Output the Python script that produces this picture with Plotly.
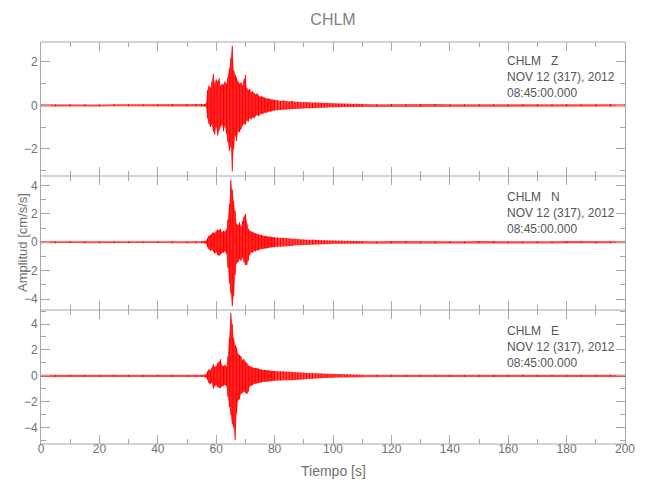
import plotly.graph_objects as go
from plotly.subplots import make_subplots

# ---------------- data ----------------
STATION = "CHLM"
COMPONENTS = ["Z", "N", "E"]
DATE_TEXT = "NOV 12 (317), 2012"
TIME_TEXT = "08:45:00.000"

# sample times [s] of the read-off envelope extremes
TIME = [0, 5, 10, 15, 20, 25, 30, 35, 40, 45, 50, 53, 55,
        56.0, 56.5, 57.0, 57.5, 58.0, 58.5, 59.0, 59.5, 60.0, 60.5,
        61.0, 61.5, 62.0, 62.5, 63.0, 63.5, 64.0, 64.5, 65.0, 65.5,
        66.0, 66.5, 67.0, 67.5, 68.0, 68.5, 69.0, 69.5, 70.0, 70.5,
        71.0, 71.5, 72.0, 72.5, 73.0, 73.5, 74.0, 74.5, 75.0, 75.5,
        76.0, 76.5, 77.0, 77.5, 78.0, 78.5, 79.0, 79.5, 80.0,
        81, 82, 83, 84, 85, 86, 87, 88, 89, 90,
        91, 92, 93, 94, 95, 96, 97, 98, 99, 100,
        101, 102, 103, 104, 105, 106, 107, 108, 109, 110,
        115, 120, 125, 130, 135, 140, 145, 150, 155, 160,
        165, 170, 175, 180, 185, 190, 195, 200]

# Z component: upper / lower extremes [cm/s/s]
Z_UP = [0.05, 0.04, 0.05, 0.05, 0.04, 0.05, 0.05, 0.04, 0.05, 0.05, 0.04, 0.05, 0.05,
        0.06, 0.08, 0.70, 0.90, 0.80, 1.10, 1.45, 1.00, 1.20, 1.10,
        1.25, 0.90, 1.00, 0.95, 1.10, 1.00, 1.30, 1.70, 2.20, 2.75,
        1.60, 1.40, 1.30, 1.10, 1.00, 1.05, 0.90, 1.20, 1.40, 0.80,
        0.70, 0.75, 0.60, 0.65, 0.55, 0.50, 0.55, 0.45, 0.40, 0.42,
        0.38, 0.35, 0.33, 0.30, 0.32, 0.28, 0.26, 0.27, 0.24,
        0.23, 0.20, 0.22, 0.19, 0.18, 0.20, 0.16, 0.17, 0.15, 0.14,
        0.15, 0.13, 0.12, 0.13, 0.12, 0.11, 0.10, 0.11, 0.10, 0.09,
        0.09, 0.08, 0.08, 0.07, 0.08, 0.07, 0.06, 0.07, 0.06, 0.06,
        0.05, 0.06, 0.05, 0.05, 0.06, 0.05, 0.05, 0.06, 0.05, 0.05,
        0.06, 0.05, 0.05, 0.06, 0.05, 0.05, 0.06, 0.05]
Z_LO = [-0.05, -0.05, -0.04, -0.05, -0.05, -0.04, -0.05, -0.05, -0.04, -0.05, -0.05, -0.04, -0.05,
        -0.05, -0.07, -0.60, -0.85, -1.00, -0.90, -1.20, -1.35, -1.00, -1.40,
        -1.15, -1.00, -0.90, -1.20, -0.95, -1.30, -1.70, -2.10, -1.90, -3.05,
        -2.00, -1.40, -1.65, -1.20, -1.25, -1.10, -0.95, -0.85, -0.90, -0.70,
        -0.75, -0.60, -0.65, -0.55, -0.60, -0.50, -0.45, -0.50, -0.42, -0.38,
        -0.40, -0.33, -0.35, -0.32, -0.28, -0.30, -0.27, -0.24, -0.25,
        -0.22, -0.22, -0.19, -0.20, -0.18, -0.17, -0.17, -0.15, -0.16, -0.14,
        -0.13, -0.14, -0.13, -0.12, -0.11, -0.12, -0.11, -0.10, -0.09, -0.10,
        -0.08, -0.09, -0.08, -0.08, -0.07, -0.07, -0.07, -0.06, -0.06, -0.06,
        -0.06, -0.05, -0.05, -0.06, -0.05, -0.05, -0.06, -0.05, -0.05, -0.06,
        -0.05, -0.05, -0.06, -0.05, -0.05, -0.06, -0.05, -0.05]

# N component
N_UP = [0.07, 0.06, 0.07, 0.07, 0.06, 0.07, 0.07, 0.06, 0.07, 0.07, 0.06, 0.07, 0.07,
        0.08, 0.10, 0.30, 0.45, 0.50, 0.60, 0.70, 0.65, 0.80, 0.90,
        0.85, 0.95, 0.70, 0.80, 0.75, 0.90, 1.60, 2.70, 4.40, 3.70,
        2.90, 2.20, 1.30, 1.20, 1.40, 1.10, 1.50, 1.80, 2.00, 1.30,
        0.95, 0.80, 0.75, 0.70, 0.65, 0.60, 0.58, 0.55, 0.50, 0.52,
        0.45, 0.42, 0.45, 0.40, 0.38, 0.40, 0.36, 0.35, 0.34,
        0.33, 0.30, 0.32, 0.29, 0.28, 0.25, 0.24, 0.22, 0.20, 0.21,
        0.18, 0.17, 0.18, 0.16, 0.15, 0.14, 0.15, 0.13, 0.12, 0.12,
        0.11, 0.10, 0.10, 0.09, 0.10, 0.09, 0.08, 0.09, 0.08, 0.08,
        0.07, 0.08, 0.07, 0.07, 0.08, 0.07, 0.07, 0.08, 0.07, 0.07,
        0.08, 0.07, 0.07, 0.08, 0.07, 0.07, 0.08, 0.07]
N_LO = [-0.07, -0.07, -0.06, -0.07, -0.07, -0.06, -0.07, -0.07, -0.06, -0.07, -0.07, -0.06, -0.07,
        -0.07, -0.10, -0.35, -0.50, -0.60, -0.55, -0.65, -0.80, -0.70, -0.90,
        -0.95, -0.85, -0.75, -0.70, -0.65, -0.80, -1.80, -2.90, -3.60, -4.50,
        -3.80, -2.30, -1.50, -1.40, -1.20, -1.30, -1.10, -1.40, -1.60, -1.60,
        -1.30, -0.90, -0.70, -0.75, -0.60, -0.65, -0.55, -0.58, -0.50, -0.45,
        -0.48, -0.45, -0.40, -0.42, -0.40, -0.36, -0.38, -0.34, -0.35,
        -0.32, -0.31, -0.29, -0.30, -0.27, -0.27, -0.22, -0.23, -0.21, -0.19,
        -0.19, -0.18, -0.16, -0.15, -0.16, -0.14, -0.13, -0.13, -0.13, -0.11,
        -0.11, -0.11, -0.10, -0.10, -0.09, -0.09, -0.09, -0.08, -0.08, -0.08,
        -0.08, -0.07, -0.07, -0.08, -0.07, -0.07, -0.08, -0.07, -0.07, -0.08,
        -0.07, -0.07, -0.08, -0.07, -0.07, -0.08, -0.07, -0.07]

# E component
E_UP = [0.08, 0.07, 0.08, 0.08, 0.07, 0.08, 0.08, 0.07, 0.08, 0.08, 0.07, 0.08, 0.08,
        0.09, 0.12, 0.35, 0.50, 0.45, 0.60, 0.90, 0.70, 0.75, 1.00,
        1.10, 1.28, 0.80, 0.75, 0.85, 0.70, 1.50, 2.95, 4.85, 4.00,
        2.90, 2.40, 2.20, 1.70, 1.60, 1.50, 1.20, 1.30, 1.10, 1.00,
        0.80, 0.75, 0.70, 0.65, 0.60, 0.62, 0.58, 0.55, 0.50, 0.48,
        0.45, 0.47, 0.44, 0.42, 0.43, 0.40, 0.38, 0.40, 0.37,
        0.36, 0.35, 0.37, 0.34, 0.35, 0.32, 0.30, 0.28, 0.27, 0.25,
        0.23, 0.22, 0.20, 0.19, 0.18, 0.17, 0.16, 0.15, 0.14, 0.13,
        0.13, 0.12, 0.11, 0.11, 0.10, 0.10, 0.09, 0.09, 0.09, 0.08,
        0.08, 0.09, 0.08, 0.08, 0.09, 0.08, 0.08, 0.09, 0.08, 0.08,
        0.09, 0.08, 0.08, 0.09, 0.08, 0.08, 0.09, 0.08]
E_LO = [-0.08, -0.08, -0.07, -0.08, -0.08, -0.07, -0.08, -0.08, -0.07, -0.08, -0.08, -0.07, -0.08,
        -0.08, -0.12, -0.30, -0.55, -0.65, -0.50, -1.00, -0.80, -0.70, -0.85,
        -0.90, -0.95, -0.80, -0.75, -0.70, -0.80, -1.60, -2.40, -3.00, -3.70,
        -4.00, -4.95, -2.90, -1.90, -1.80, -1.40, -1.30, -1.20, -1.30, -1.40,
        -1.20, -0.80, -0.75, -0.70, -0.62, -0.58, -0.60, -0.55, -0.52, -0.50,
        -0.47, -0.44, -0.45, -0.44, -0.40, -0.42, -0.40, -0.37, -0.38,
        -0.35, -0.36, -0.34, -0.35, -0.33, -0.34, -0.31, -0.30, -0.26, -0.26,
        -0.24, -0.21, -0.21, -0.20, -0.18, -0.17, -0.16, -0.15, -0.14, -0.14,
        -0.12, -0.12, -0.12, -0.10, -0.10, -0.09, -0.10, -0.09, -0.08, -0.08,
        -0.08, -0.08, -0.09, -0.08, -0.08, -0.09, -0.08, -0.08, -0.09, -0.08,
        -0.08, -0.09, -0.08, -0.08, -0.09, -0.08, -0.08, -0.09]

Y_RANGES = [[-3.26, 2.92], [-4.77, 4.66], [-5.25, 5.08]]
X_RANGE = [0, 200]

# ---------------- figure ----------------
FONT = "Liberation Sans, Arial, sans-serif"
AXIS_COLOR = "#a8a8a8"
TICK_TEXT = "#707070"
NOTE_TEXT = "#555555"

fig = make_subplots(rows=3, cols=1, shared_xaxes=True, vertical_spacing=0)

traces = [(Z_UP, Z_LO), (N_UP, N_LO), (E_UP, E_LO)]
for i, (up, lo) in enumerate(traces):
    # envelope band
    fig.add_trace(go.Scatter(x=TIME + TIME[::-1], y=up + lo[::-1], mode="lines",
                             fill="toself", fillcolor="rgba(255,0,0,0.72)",
                             line=dict(width=0), hoverinfo="skip", showlegend=False),
                  row=i + 1, col=1)
    # vertical strokes between the extremes
    xs, ys = [], []
    for t, u, l in zip(TIME, up, lo):
        xs += [t, t, None]
        ys += [u, l, None]
    fig.add_trace(go.Scatter(x=xs, y=ys, mode="lines", connectgaps=False,
                             line=dict(color="#ff0000", width=1),
                             hoverinfo="skip", showlegend=False),
                  row=i + 1, col=1)

for i in range(3):
    fig.update_yaxes(range=Y_RANGES[i], dtick=2, tick0=0, ticks="inside", ticklen=9,
                     tickcolor=AXIS_COLOR, showline=True, linecolor=AXIS_COLOR,
                     linewidth=1, mirror="allticks", showgrid=False, zeroline=False,
                     minor=dict(dtick=1, tick0=0, ticks="inside", ticklen=5,
                                tickcolor=AXIS_COLOR, showgrid=False),
                     tickfont=dict(family=FONT, size=12, color=TICK_TEXT),
                     row=i + 1, col=1)
    fig.update_xaxes(range=X_RANGE, dtick=20, tick0=0, ticks="inside", ticklen=9,
                     tickcolor=AXIS_COLOR, showline=False,
                     mirror="allticks", showgrid=False, zeroline=False,
                     minor=dict(dtick=10, tick0=0, ticks="inside", ticklen=5,
                                tickcolor=AXIS_COLOR, showgrid=False),
                     tickfont=dict(family=FONT, size=12, color=TICK_TEXT),
                     ticklabelstandoff=-4,
                     row=i + 1, col=1)

# single-pixel horizontal frame lines (panel edges)
for yb in [0, 1 / 3, 2 / 3, 1]:
    fig.add_shape(type="line", xref="paper", yref="paper", x0=0, x1=1, y0=yb, y1=yb,
                  line=dict(color=AXIS_COLOR, width=1), layer="above")

# station / date annotations per panel
ann_y = [[0.9527, 0.9129, 0.8731], [0.6144, 0.5746, 0.5348], [0.2811, 0.2413, 0.2015]]
for comp, ys in zip(COMPONENTS, ann_y):
    lines = [STATION + "\u00a0\u00a0\u00a0" + comp, DATE_TEXT, TIME_TEXT]
    for txt, yy in zip(lines, ys):
        fig.add_annotation(text=txt, xref="paper", yref="paper", x=0.7945, y=yy,
                           xanchor="left", yanchor="middle", showarrow=False,
                           font=dict(family=FONT, size=12, color=NOTE_TEXT))

# axis titles
fig.add_annotation(text="Amplitud [cm/s/s]", xref="paper", yref="paper", x=0, y=0.5,
                   xshift=-19, xanchor="center", yanchor="middle", textangle=-90,
                   showarrow=False, font=dict(family=FONT, size=13, color=TICK_TEXT))
fig.add_annotation(text="Tiempo [s]", xref="paper", yref="paper", x=0.5, y=0,
                   yshift=-27, xanchor="center", yanchor="middle",
                   showarrow=False, font=dict(family=FONT, size=14, color=TICK_TEXT))

fig.update_layout(
    width=650, height=500,
    margin=dict(l=33, r=33, t=34, b=64),
    paper_bgcolor="white", plot_bgcolor="white",
    title=dict(text=STATION, x=0.5, xref="paper", y=1 - 11 / 500, yanchor="middle",
               xanchor="center", font=dict(family=FONT, size=16, color="#808080")),
)

fig.write_html("out.html")
